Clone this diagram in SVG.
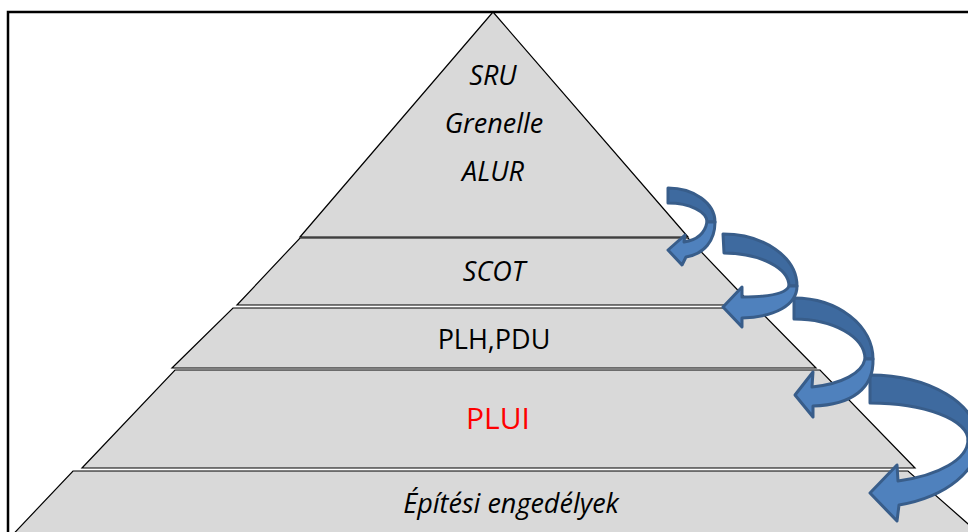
<svg xmlns="http://www.w3.org/2000/svg" width="968" height="532" viewBox="0 0 968 532">
<style>
.layer{fill:#d9d9d9;stroke:#000;stroke-width:1.2}
.t{font-family:"Open Sans","Liberation Sans",sans-serif;font-size:27px;fill:#000;text-anchor:middle}
.i{font-style:italic}
.dark{fill:#3e6a9f;stroke:#385d8a;stroke-width:3;stroke-linejoin:round}
.light{fill:#4f81bd;stroke:#385d8a;stroke-width:3;stroke-linejoin:round}
</style>
<rect x="8" y="12" width="1000" height="600" fill="#fff" stroke="#000" stroke-width="2.5"/>
<g id="layer5">
<polygon class="layer" points="73,471 908,471 992,545 3,545"/>
<text class="t i" x="511" y="513">Építési engedélyek</text>
</g>
<g id="layer4">
<polygon class="layer" points="175,370 820,370 915,468 82,468"/>
<text class="t" x="498" y="429" style="font-size:30px;fill:#ff0000">PLUI</text>
</g>
<g id="layer3">
<polygon class="layer" points="233,308 757,308 816,368 172,368"/>
<text class="t" x="494" y="349">PLH,PDU</text>
</g>
<g id="layer2">
<polygon class="layer" points="300,238 688,238 752,305 237,305"/>
<text class="t i" x="494" y="281">SCOT</text>
</g>
<g id="layer1">
<polygon class="layer" points="493,12 688,237 300,237"/>
<text class="t i" x="493" y="85">SRU</text>
<text class="t i" x="494" y="133">Grenelle</text>
<text class="t i" x="493" y="181">ALUR</text>
</g>
<g id="connectors">
<g id="arrow4">
<path class="dark" d="M870,375 A108,65 0 0 1 978,440 L968,440 A98,37 0 0 0 870,403 Z"/>
<path class="light" d="M968,440 A98,43 0 0 1 898,481 L897,465 L870,493 L897,521 L899,505 A110,66 0 0 0 978,440 Z"/>
</g>
<g id="arrow3">
<path class="dark" d="M794,298 A79,61 0 0 1 873,359 L865,359 A71,40 0 0 0 794,319 Z"/>
<path class="light" d="M865,359 C862,373 842,384 812,387 L813,372 L795,395 L813,417 L813,406 C852,405 874,388 873,359 Z"/>
</g>
<g id="arrow2">
<path class="dark" d="M723,234 A74,52 0 0 1 797,286 L789,286 A66,33 0 0 0 724,253 Z"/>
<path class="light" d="M789,286 C786,294 768,297 742,297 L742,287 L723,307 L742,327 L742,318 C775,317 797,305 797,286 Z"/>
</g>
<g id="arrow1">
<path class="dark" d="M668,188 A47,34 0 0 1 715,222 L707,222 A39,19 0 0 0 668,203 Z"/>
<path class="light" d="M707,222 C705,233 697,240 684,242 L685,235 L668,250 L682,265 L686,257 C704,254 715,241 715,222 Z"/>
</g>
</g>
</svg>
